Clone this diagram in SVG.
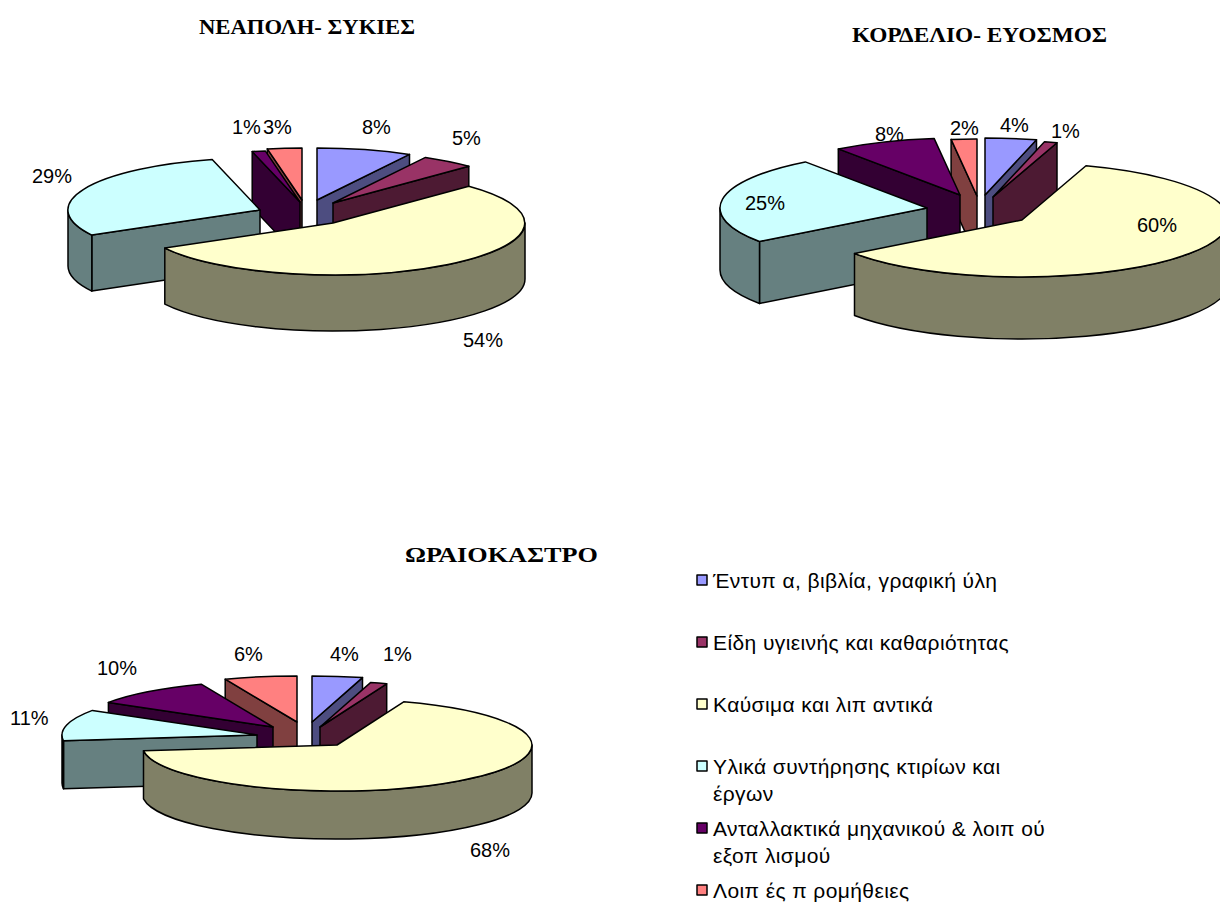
<svg xmlns="http://www.w3.org/2000/svg" width="1220" height="903" viewBox="0 0 1220 903">
<style>
.s{stroke:#000;stroke-width:1.5;stroke-linejoin:round}
.bT{fill:#9999FF}.bS{fill:#4D4D80}
.mT{fill:#993366}.mS{fill:#4D1A33}
.yT{fill:#FFFFCC}.yS{fill:#808066}
.cT{fill:#CCFFFF}.cS{fill:#668080}
.pT{fill:#660066}.pS{fill:#330033}
.rT{fill:#FF8080}.rS{fill:#804040}
.ttl{font-family:"Liberation Serif","Times New Roman",serif;font-weight:bold;font-size:22px;fill:#000}
.lbl{font-family:"Liberation Sans",Arial,sans-serif;font-size:20px;fill:#000}
.leg{font-family:"Liberation Sans",Arial,sans-serif;font-size:21px;letter-spacing:0.4px;fill:#000}
</style>
<rect width="1220" height="903" fill="#fff"/>

<!-- Titles -->
<text class="ttl" x="199" y="34" textLength="216" lengthAdjust="spacingAndGlyphs">ΝΕΑΠΟΛΗ- ΣΥΚΙΕΣ</text>
<text class="ttl" x="852" y="42" textLength="255" lengthAdjust="spacingAndGlyphs">ΚΟΡΔΕΛΙΟ- ΕΥΟΣΜΟΣ</text>
<text class="ttl" x="405" y="562" textLength="193" lengthAdjust="spacingAndGlyphs">ΩΡΑΙΟΚΑΣΤΡΟ</text>

<!-- Chart 1: ΝΕΑΠΟΛΗ- ΣΥΚΙΕΣ -->
<g id="chart1">
  <g id="c1-sides" class="s">
    <path class="rS" d="M302,200 L267.3,148.9 L267.3,204.9 L302,256 Z"/>
    <path class="pS" d="M300,202 L252.2,151.6 L252.2,207.6 L300,258 Z"/>
    <path class="bS" d="M317,200 L409.5,154.4 L409.5,210.4 L317,256 Z"/>
    <path class="mS" d="M333,203 L468.8,166.2 L468.8,222.2 L333,259 Z"/>
    <path class="cS" d="M260,210 L91.8,235.1 L91.8,291.1 L260,266 Z"/>
    <path class="cS" d="M91.8,235.1 A192,52 0 0 1 68,210 L68,266 A192,52 0 0 0 91.8,291.1 Z"/>
    <path class="yS" d="M525,223 A192,52 0 0 1 164.8,248.1 L164.8,304.1 A192,52 0 0 0 525,279 Z"/>
  </g>
  <g id="c1-tops" class="s">
    <path id="c1-blue" class="bT" d="M317,200 L317,148 A192,52 0 0 1 409.5,154.4 Z"/>
    <path id="c1-maroon" class="mT" d="M333,203 L425.5,157.4 A192,52 0 0 1 468.8,166.2 Z"/>
    <path id="c1-yellow" class="yT" d="M333,223 L468.8,186.2 A192,52 0 1 1 164.8,248.1 Z"/>
    <path id="c1-cyan" class="cT" d="M260,210 L91.8,235.1 A192,52 0 0 1 212.2,159.6 Z"/>
    <path id="c1-purple" class="pT" d="M300,202 L252.2,151.6 A192,52 0 0 1 265.3,150.9 Z"/>
    <path id="c1-salmon" class="rT" d="M302,200 L267.3,148.9 A192,52 0 0 1 302,148 Z"/>
  </g>
  <g id="c1-labels" class="lbl">
    <text x="232" y="134">1%</text>
    <text x="263" y="134">3%</text>
    <text x="362" y="134">8%</text>
    <text x="452" y="145">5%</text>
    <text x="32" y="183">29%</text>
    <text x="463" y="347">54%</text>
  </g>
</g>

<!-- Chart 2: ΚΟΡΔΕΛΙΟ- ΕΥΟΣΜΟΣ -->
<g id="chart2">
  <text class="lbl" x="875" y="141">8%</text>
  <g id="c2-sides" class="s">
    <path class="rS" d="M977,196 L951.1,139.4 L951.1,201.4 L977,258 Z"/>
    <path class="pS" d="M960,195 L838.3,148.9 L838.3,210.9 L960,257 Z"/>
    <path class="bS" d="M985,195 L1036.5,139.8 L1036.5,201.8 L985,257 Z"/>
    <path class="mS" d="M993,197 L1057,142.8 L1057,204.8 L993,259 Z"/>
    <path class="cS" d="M927,208 L759.5,241.5 L759.5,303.5 L927,270 Z"/>
    <path class="cS" d="M759.5,241.5 A207,57 0 0 1 720,208 L720,270 A207,57 0 0 0 759.5,303.5 Z"/>
    <path class="yS" d="M1229,220 A207,57 0 0 1 854.5,253.5 L854.5,315.5 A207,57 0 0 0 1229,282 Z"/>
  </g>
  <g id="c2-tops" class="s">
    <path id="c2-blue" class="bT" d="M985,195 L985,138 A207,57 0 0 1 1036.5,139.8 Z"/>
    <path id="c2-maroon" class="mT" d="M993,197 L1044.5,141.8 A207,57 0 0 1 1057,142.8 Z"/>
    <path id="c2-yellow" class="yT" d="M1022,220 L1086,165.8 A207,57 0 1 1 854.5,253.5 Z"/>
    <path id="c2-cyan" class="cT" d="M927,208 L759.5,241.5 A207,57 0 0 1 805.3,161.9 Z"/>
    <path id="c2-purple" class="pT" d="M960,195 L838.3,148.9 A207,57 0 0 1 934.1,138.4 Z"/>
    <path id="c2-salmon" class="rT" d="M977,196 L951.1,139.4 A207,57 0 0 1 977,139 Z"/>
  </g>
  <g id="c2-labels" class="lbl">
    <text x="950" y="135">2%</text>
    <text x="1000" y="132">4%</text>
    <text x="1051" y="138">1%</text>
    <text x="745" y="210">25%</text>
    <text x="1137" y="232">60%</text>
  </g>
</g>

<!-- Chart 3: ΩΡΑΙΟΚΑΣΤΡΟ -->
<g id="chart3">
  <g id="c3-sides" class="s">
    <path class="rS" d="M297,722 L225.2,679.2 L225.2,727.2 L297,770 Z"/>
    <path class="pS" d="M273,727 L108.4,702.4 L108.4,750.4 L273,775 Z"/>
    <path class="bS" d="M312,722 L362.5,677.6 L362.5,725.6 L312,770 Z"/>
    <path class="mS" d="M320,727 L386.7,683.8 L386.7,731.8 L320,775 Z"/>
    <path class="cS" d="M257,735 L63.5,740.8 L63.5,788.8 L257,783 Z"/>
    <path class="cS" d="M63.5,740.8 A195,46 0 0 1 62,735 L62,783 A195,46 0 0 0 63.5,788.8 Z"/>
    <path class="yS" d="M532,745 A195,46 0 0 1 143.5,750.8 L143.5,798.8 A195,46 0 0 0 532,793 Z"/>
  </g>
  <g id="c3-tops" class="s">
    <path id="c3-blue" class="bT" d="M312,722 L312,676 A195,46 0 0 1 362.5,677.6 Z"/>
    <path id="c3-maroon" class="mT" d="M320,727 L370.5,682.6 A195,46 0 0 1 386.7,683.8 Z"/>
    <path id="c3-yellow" class="yT" d="M337,745 L403.7,701.8 A195,46 0 1 1 143.5,750.8 Z"/>
    <path id="c3-cyan" class="cT" d="M257,735 L63.5,740.8 A195,46 0 0 1 92.4,710.4 Z"/>
    <path id="c3-purple" class="pT" d="M273,727 L108.4,702.4 A195,46 0 0 1 201.2,684.2 Z"/>
    <path id="c3-salmon" class="rT" d="M297,722 L225.2,679.2 A195,46 0 0 1 297,676 Z"/>
  </g>
  <g id="c3-labels" class="lbl">
    <text x="97" y="675">10%</text>
    <text x="234" y="661">6%</text>
    <text x="330" y="661">4%</text>
    <text x="383" y="661">1%</text>
    <text x="10" y="725">11%</text>
    <text x="470" y="857">68%</text>
  </g>
</g>

<!-- Legend -->
<g id="legend">
  <g class="s" stroke-width="1">
    <rect class="bT" x="697" y="575" width="10" height="10"/>
    <rect class="mT" x="697" y="637" width="10" height="10"/>
    <rect class="yT" x="697" y="699" width="10" height="10"/>
    <rect class="cT" x="697" y="761" width="10" height="10"/>
    <rect class="pT" x="697" y="823" width="10" height="10"/>
    <rect class="rT" x="697" y="885" width="10" height="10"/>
  </g>
  <g class="leg">
    <text x="713" y="588">Έντυπ α, βιβλία, γραφική ύλη</text>
    <text x="713" y="650">Είδη υγιεινής και καθαριότητας</text>
    <text x="713" y="712">Καύσιμα και λιπ αντικά</text>
    <text x="713" y="774">Υλικά συντήρησης κτιρίων και</text>
    <text x="713" y="801">έργων</text>
    <text x="713" y="836">Ανταλλακτικά μηχανικού &amp; λοιπ ού</text>
    <text x="713" y="863">εξοπ λισμού</text>
    <text x="713" y="898">Λοιπ ές π ρομήθειες</text>
  </g>
</g>
</svg>
